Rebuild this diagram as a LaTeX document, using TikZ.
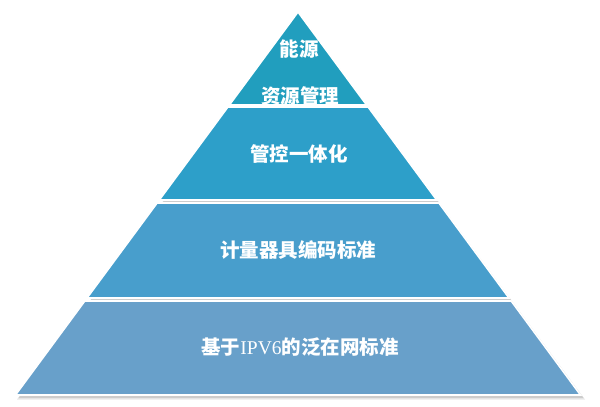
\documentclass[tikz,border=0pt]{standalone}
\usepackage{fontspec}
\usetikzlibrary{positioning}
\newfontfamily\cjk{Noto Sans CJK SC}
\newfontfamily\latinfont{Liberation Serif}
\definecolor{layerone}{RGB}{33,158,190}
\definecolor{layertwo}{RGB}{45,159,201}
\definecolor{layerthree}{RGB}{72,158,204}
\definecolor{layerfour}{RGB}{104,160,202}

\begin{document}
\begin{tikzpicture}[
  x=1pt, y=-1pt,
  layer/.style={draw=white, line width=1.6pt, line join=miter},
  lbl/.style={text=white, font=\cjk\bfseries\fontsize{19.5}{22}\selectfont, inner sep=0pt, anchor=center}
]
\useasboundingbox (0,0) rectangle (600,407);
% shadow of the whole pyramid
\fill[black!45, opacity=.35] (300,15) -- (583.5,398) -- (18.5,398) -- cycle;
\fill[black!30, opacity=.3] (301,16) -- (585,399.5) -- (17,399.5) -- cycle;
% layers, top to bottom
\filldraw[layer, fill=layerone] (298,12) -- (366.6,105) -- (229.4,105) -- cycle;
\filldraw[layer, fill=layertwo] (227.9,107) -- (368.1,107) -- (436.7,200) -- (159.3,200) -- cycle;
\filldraw[layer, fill=layerthree] (157.1,203) -- (438.9,203) -- (509.0,298) -- (87.0,298) -- cycle;
\filldraw[layer, fill=layerfour] (84.8,301) -- (511.2,301) -- (580.5,395) -- (15.5,395) -- cycle;
% labels
\node[lbl] (energy) at (299,49) {能源};
\node[lbl] (resmgmt) at (300,96) {资源管理};
\node[lbl] (control) at (299,154) {管控一体化};
\node[lbl] (coding) at (298,250) {计量器具编码标准};
\node[lbl] (ipv) at (300,347) {基于{\latinfont\mdseries IPV6}的泛在网标准};
\end{tikzpicture}
\end{document}
